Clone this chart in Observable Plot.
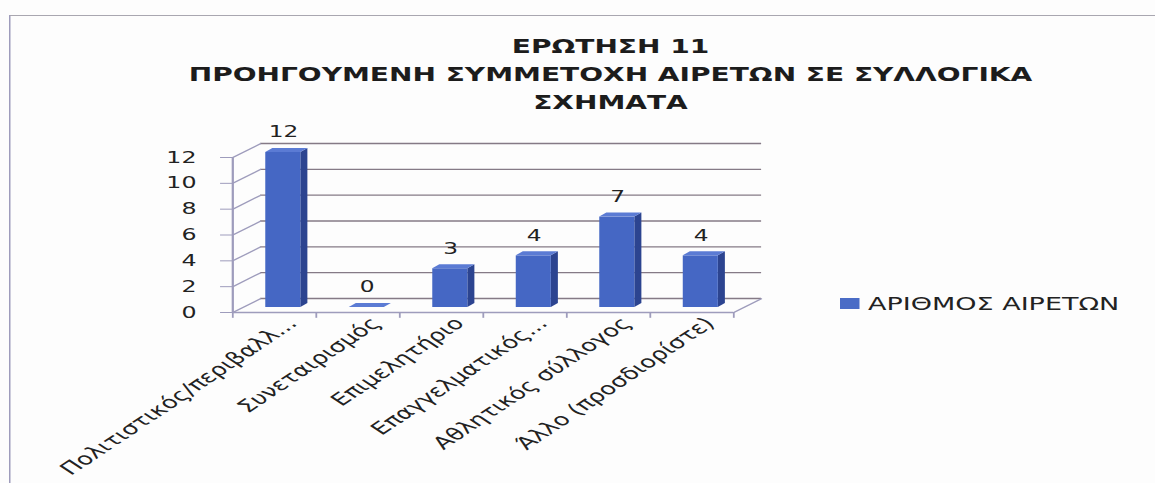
<!DOCTYPE html>
<html>
<head>
<meta charset="utf-8">
<script src="https://cdn.jsdelivr.net/npm/d3@7"></script>
<script src="https://cdn.jsdelivr.net/npm/@observablehq/plot@0.6"></script>
<style>
  html, body { margin: 0; padding: 0; background: #fdfdfd; overflow: hidden; }
  #page { position: relative; width: 770px; height: 483px; transform: scaleX(1.5); transform-origin: 0 0; overflow: hidden; }
  #frame { position: absolute; left: 6px; top: 15px; width: 800px; height: 500px;
           border-top: 1px solid #a9a7b0; border-left: 1.5px solid #9e9cbc; }
  #title { position: absolute; left: 0; top: 33px; width: 814px; text-align: center;
           font: bold 18.7px "DejaVu Sans"; line-height: 27.8px; color: #1c1c1c; }
  #chart { position: absolute; left: 0; top: 118px; }
  #legend { position: absolute; left: 560px; top: 292px; height: 22px; display: flex; align-items: center;
            font: 18px "DejaVu Sans"; color: #222; white-space: nowrap; }
  #legend .sw { width: 12.7px; height: 11px; background: #4a6cc6; margin-right: 6px; }
</style>
</head>
<body>
<div id="page">
  <div id="frame"></div>
  <div id="title"></div>
  <div id="chart"></div>
  <div id="legend"></div>
</div>
<script>
// ---- data ----
const titleLines = ["ΕΡΩΤΗΣΗ 11", "ΠΡΟΗΓΟΥΜΕΝΗ ΣΥΜΜΕΤΟΧΗ ΑΙΡΕΤΩΝ ΣΕ ΣΥΛΛΟΓΙΚΑ", "ΣΧΗΜΑΤΑ"];
const categories = ["Πολιτιστικός/περιβαλλ...", "Συνεταιρισμός", "Επιμελητήριο", "Επαγγελματικός...", "Αθλητικός σύλλογος", "Άλλο (προσδιορίστε)"];
const values = [12, 0, 3, 4, 7, 4];
const yTicks = [0, 2, 4, 6, 8, 10, 12];
const seriesName = "ΑΡΙΘΜΟΣ ΑΙΡΕΤΩΝ";

// ---- layout ----
const W = 770, H = 365;
const mL = 154.7, mR = 281.3, mT = 39, mB = 171;
const nCat = categories.length;
const pxX = (W - mL - mR) / nCat;
const pxY = (H - mT - mB) / 12;
const wallDx = 18.7, wallDy = -14;
const barDx = 6, barDy = -5;
const bw = 0.42;
const bdX = 4.7 / pxX, bdY = 4 / pxY;
const wdX = wallDx / pxX, wdY = -wallDy / pxY;

const rows = categories.map((c, i) => ({i, c, v: values[i], xl: i + 0.5 - bw / 2, xr: i + 0.5 + bw / 2}));
const sideFace = rows.filter(d => d.v > 0).flatMap(d => [
  {bar: d.i, x: d.xr, y1: 0, y2: d.v},
  {bar: d.i, x: d.xr + bdX, y1: bdY, y2: d.v + bdY}
]);
const topFace = rows.flatMap(d => [
  {bar: d.i, y: d.v, x1: d.xl, x2: d.xr},
  {bar: d.i, y: d.v + bdY, x1: d.xl + bdX, x2: d.xr + bdX}
]);
const bounds = d3.range(nCat + 1);
const centers = rows.map(d => d.i + 0.5);

const gridColor = "#857a86", axisColor = "#9e9cbc";

document.getElementById("title").innerHTML = titleLines.map(t => `<div>${t}</div>`).join("");
document.getElementById("legend").innerHTML = `<span class="sw"></span><span>${seriesName}</span>`;

const chart = Plot.plot({
  width: W, height: H,
  marginLeft: mL, marginRight: mR, marginTop: mT, marginBottom: mB,
  style: {background: "transparent", fontFamily: "DejaVu Sans", overflow: "visible", color: "#222"},
  x: {type: "linear", domain: [0, nCat], axis: null},
  y: {domain: [0, 12], axis: null},
  marks: [
    Plot.ruleY(yTicks, {x1: 0, x2: nCat, dx: wallDx, dy: wallDy, stroke: gridColor, strokeWidth: 1.4}),
    Plot.link(yTicks, {x1: 0, y1: d => d, x2: wdX, y2: d => d + wdY, stroke: axisColor, strokeWidth: 1.2}),
    Plot.link([nCat], {x1: d => d, y1: 0, x2: d => d + wdX, y2: wdY, stroke: axisColor, strokeWidth: 1.2}),
    Plot.ruleX([0], {y1: 0, y2: 12, stroke: axisColor, strokeWidth: 1.5}),
    Plot.ruleY([0], {x1: 0, x2: nCat, stroke: axisColor, strokeWidth: 1.5}),
    Plot.ruleX(bounds, {y1: 0, y2: -0.45, stroke: axisColor, strokeWidth: 1.2}),
    Plot.axisY(yTicks, {tickSize: 8, tickPadding: 16.2, fontSize: 15.8, stroke: axisColor, fill: "#222", anchor: "left"}),
    Plot.areaY(sideFace, {x: "x", y1: "y1", y2: "y2", z: "bar", fill: "#2c4490", dx: barDx, dy: barDy}),
    Plot.rect(rows.filter(d => d.v > 0), {x1: "xl", x2: "xr", y1: 0, y2: "v", fill: "#4567c4", dx: barDx, dy: barDy}),
    Plot.areaX(topFace, {y: "y", x1: "x1", x2: "x2", z: "bar", fill: "#5b7bd4", dx: barDx, dy: barDy}),
    Plot.text(rows, {x: d => d.i + 0.5, y: "v", text: d => String(d.v), dx: barDx, dy: barDy - 20, fontSize: 15.5, fill: "#222"}),
    Plot.axisX(centers, {tickSize: 0, tickRotate: -45, tickPadding: 8, fontSize: 17.2, fill: "#222",
      tickFormat: d => categories[Math.round(d - 0.5)], anchor: "bottom", dx: 12})
  ]
});
document.getElementById("chart").appendChild(chart);
</script>
</body>
</html>
